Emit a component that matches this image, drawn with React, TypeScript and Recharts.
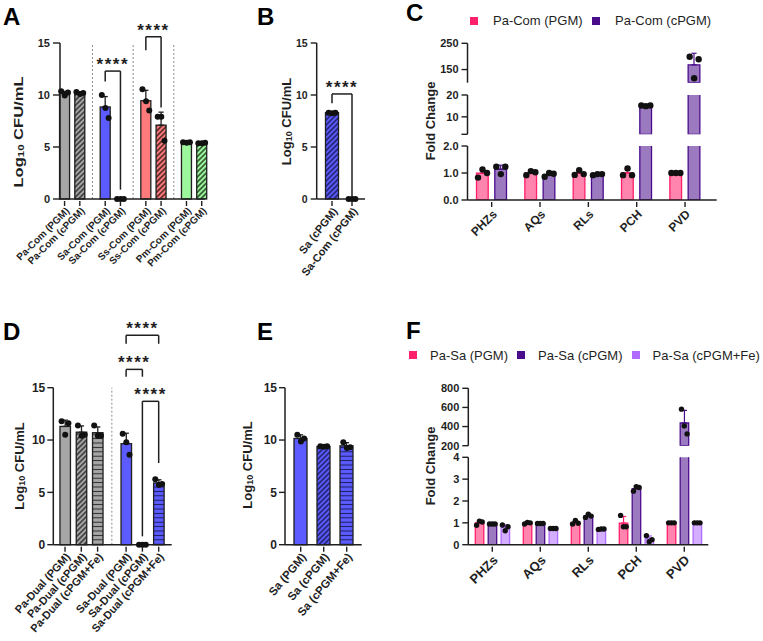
import React from "react";
import { ComposedChart, Bar, Line, XAxis, YAxis, ErrorBar, ReferenceLine, Legend } from "recharts";

const FONT = "'Liberation Sans', Arial, Helvetica, sans-serif";
const INK = "#1f1f1f";

// ---------------- Panel A ----------------
const aCategories = ["Pa-Com (PGM)", "Pa-Com (cPGM)", "Sa-Com (PGM)", "Sa-Com (cPGM)", "Ss-Com (PGM)", "Ss-Com (cPGM)", "Pm-Com (PGM)", "Pm-Com (cPGM)"];
const aMeans = [10.15, 10.2, 8.85, 0, 9.45, 7.1, 5.42, 5.37];
const aSD = [0.2, 0.1, 1.0, 0, 1.0, 1.25, 0.05, 0.05];
const aRep1 = [10.35, 10.3, 10.0, 0, 10.55, 7.9, 5.45, 5.35];
const aRep2 = [9.95, 10.1, 8.75, 0, 9.4, 7.9, 5.4, 5.35];
const aRep3 = [10.25, 10.2, 7.8, 0, 8.5, 5.6, 5.45, 5.4];

// ---------------- Panel B ----------------
const bCategories = ["Sa (cPGM)", "Sa-Com (cPGM)"];
const bMeans = [8.3, 0];
const bSD = [0.05, 0];
const bRep1 = [8.3, 0];
const bRep2 = [8.25, 0];
const bRep3 = [8.3, 0];

// ---------------- Panel C ----------------
const cCategories = ["PHZs", "AQs", "RLs", "PCH", "PVD"];
const cPgmMeans = [0.99, 1.0, 0.99, 1.0, 1.0];
const cPgmSD = [0.15, 0.08, 0.09, 0.14, 0];
const cPgmRep1 = [0.83, 0.92, 0.93, 0.92, 1.0];
const cPgmRep2 = [1.13, 1.07, 1.1, 1.17, 1.0];
const cPgmRep3 = [1.0, 1.03, 0.96, 0.92, 1.0];
const cCpgmMeans = [1.14, 0.94, 0.94, 15.1, 168];
const cCpgmSD = [0.15, 0.07, 0.03, 0.2, 44];
const cCpgmRep1 = [1.23, 0.86, 0.92, 15.2, 199];
const cCpgmRep2 = [0.96, 1.0, 0.96, 14.9, 117];
const cCpgmRep3 = [1.23, 0.97, 0.96, 15.2, 189];

// ---------------- Panel D ----------------
const dCategories = ["Pa-Dual (PGM)", "Pa-Dual (cPGM)", "Pa-Dual (cPGM+Fe)", "Sa-Dual (PGM)", "Sa-Dual (cPGM)", "Sa-Dual (cPGM+Fe)"];
const dMeans = [11.3, 10.75, 10.7, 9.65, 0, 5.9];
const dSD = [0.6, 0.6, 0.55, 1.0, 0, 0.3];
const dRep1 = [11.8, 11.4, 11.4, 10.6, 0, 6.25];
const dRep2 = [10.5, 10.4, 10.4, 9.8, 0, 5.7];
const dRep3 = [11.6, 10.5, 10.4, 8.6, 0, 5.8];

// ---------------- Panel E ----------------
const eCategories = ["Sa (PGM)", "Sa (cPGM)", "Sa (cPGM+Fe)"];
const eMeans = [10.15, 9.38, 9.45];
const eSD = [0.35, 0.05, 0.3];
const eRep1 = [10.5, 9.4, 9.8];
const eRep2 = [9.85, 9.35, 9.25];
const eRep3 = [10.15, 9.4, 9.3];

// ---------------- Panel F ----------------
const fCategories = ["PHZs", "AQs", "RLs", "PCH", "PVD"];
const fPgmMeans = [1.0, 0.99, 1.01, 0.99, 1.0];
const fPgmSD = [0.1, 0.04, 0.08, 0.3, 0];
const fPgmRep1 = [0.89, 0.95, 0.95, 1.34, 1.0];
const fPgmRep2 = [1.08, 1.02, 1.11, 0.82, 1.0];
const fPgmRep3 = [1.04, 1.0, 0.98, 0.82, 1.0];
const fCpgmMeans = [0.95, 0.97, 1.32, 2.57, 437];
const fCpgmSD = [0.01, 0.01, 0.08, 0.1, 132];
const fCpgmRep1 = [0.95, 0.97, 1.25, 2.45, 582];
const fCpgmRep2 = [0.95, 0.97, 1.4, 2.65, 407];
const fCpgmRep3 = [0.95, 0.97, 1.31, 2.62, 323];
const fFeMeans = [0.79, 0.74, 0.71, 0.26, 1.0];
const fFeSD = [0.13, 0.01, 0.01, 0.14, 0];
const fFeRep1 = [0.9, 0.74, 0.7, 0.41, 1.0];
const fFeRep2 = [0.64, 0.74, 0.72, 0.14, 1.0];
const fFeRep3 = [0.82, 0.74, 0.72, 0.23, 1.0];

// ---------------- styles ----------------
const AXIS = { stroke: INK, strokeWidth: 1.5 };
const JIT = [-3.4, 0.2, 3.4];

type XTickOpts = { font: number; angle: number; dx: number; dy: number; len: number };

function makeXTick(o: XTickOpts) {
  return (p: any) => {
    const { x, y, payload, index } = p;
    const v = String(payload && payload.value != null ? payload.value : "");
    if (!v || v.startsWith("__")) return <g key={`t${index}`} />;
    const tx = x + o.dx;
    const ty = y + o.dy;
    return (
      <g key={`t${index}`}>
        <line x1={x} y1={y} x2={x} y2={y + o.len} stroke={INK} strokeWidth={1.4} />
        <text x={tx} y={ty} dy="0.35em" textAnchor="end" transform={`rotate(${o.angle} ${tx} ${ty})`} fontSize={o.font} fontWeight="bold" fontFamily={FONT} fill={INK}>
          {v}
        </text>
      </g>
    );
  };
}

function makeDot(offset: number, r: number, domain?: [number, number]) {
  return (p: any) => {
    const { cx, cy, value, index } = p;
    if (cx == null || cy == null || !Number.isFinite(cx) || !Number.isFinite(cy) || value == null) return <g key={`e${index}`} />;
    if (domain && (value < domain[0] || value > domain[1])) return <g key={`e${index}`} />;
    return <circle key={`d${index}`} cx={cx + offset} cy={cy} r={r} fill="#111" />;
  };
}

function makeBarShape(w: number) {
  return (p: any) => {
    const { x, y, width, height, payload } = p;
    if (!payload || payload.mean == null || !(height > 0.01)) return <g />;
    const cx = x + width / 2;
    return <rect x={cx - w / 2} y={y} width={w} height={height} fill={payload.fill} stroke={INK} strokeWidth={1.3} />;
  };
}

function logTitle(x: number, y: number, len?: number) {
  return () => (
    <text x={x} y={y} transform={`rotate(-90 ${x} ${y})`} textAnchor="middle" dominantBaseline="central" fontSize={13} fontWeight="bold" fontFamily={FONT} fill={INK} textLength={len} lengthAdjust={len ? "spacingAndGlyphs" : undefined}>
      Log
      <tspan fontSize={9} dy={3}>10</tspan>
      <tspan dy={-3}> CFU/mL</tspan>
    </text>
  );
}

function plainTitle(text: string, x: number, y: number) {
  return () => (
    <text x={x} y={y} transform={`rotate(-90 ${x} ${y})`} textAnchor="middle" dominantBaseline="central" fontSize={13} fontWeight="bold" fontFamily={FONT} fill={INK}>
      {text}
    </text>
  );
}

// ---------------- simple (single-axis) panels ----------------
type Bracket = { from: number; to: number; top: number; leftEnd: number; rightEnd: number };
type SimpleCfg = {
  left: number; top: number; width: number; height: number;
  marginTop: number; marginRight: number; yAxisWidth: number; xAxisHeight: number;
  categories: string[]; means: number[]; sds: number[]; reps: number[][]; fills: string[];
  slots: number[]; totalSlots: number; separators: number[];
  padLeft: number; padRight: number; barWidth: number;
  brackets: Bracket[]; yFont: number; tickSize: number; tickMargin: number;
  xTick: XTickOpts; title: { x: number; y: number; len?: number };
};

function buildSlotData(cfg: SimpleCfg) {
  const rows: any[] = [];
  for (let s = 0; s < cfg.totalSlots; s++) {
    const ci = cfg.slots.indexOf(s);
    if (ci < 0) {
      rows.push({ name: `__${s}` });
      continue;
    }
    rows.push({
      name: cfg.categories[ci],
      mean: cfg.means[ci],
      err: cfg.sds[ci] > 0 ? [0, cfg.sds[ci]] : undefined,
      r0: cfg.reps[0][ci],
      r1: cfg.reps[1][ci],
      r2: cfg.reps[2][ci],
      fill: cfg.fills[ci],
    });
  }
  return rows;
}

function SimplePanel({ cfg }: { cfg: SimpleCfg }) {
  const data = buildSlotData(cfg);
  const common = { stroke: INK, strokeWidth: 1.5, ifOverflow: "visible" as const };
  return (
    <div style={{ position: "absolute", left: cfg.left, top: cfg.top }}>
      <ComposedChart width={cfg.width} height={cfg.height} data={data} margin={{ top: cfg.marginTop, right: cfg.marginRight, bottom: 0, left: 0 }}>
        <XAxis dataKey="name" type="category" interval={0} tickSize={0} tickLine={false} axisLine={AXIS} height={cfg.xAxisHeight} padding={{ left: cfg.padLeft, right: cfg.padRight }} tick={makeXTick(cfg.xTick)} />
        <YAxis
          type="number"
          domain={[0, 15]}
          ticks={[0, 5, 10, 15]}
          width={cfg.yAxisWidth}
          axisLine={AXIS}
          tickLine={{ stroke: INK, strokeWidth: 1.4 }}
          tickSize={cfg.tickSize}
          tickMargin={cfg.tickMargin}
          tick={{ fontSize: cfg.yFont, fontWeight: "bold", fill: INK, fontFamily: FONT }}
          label={logTitle(cfg.title.x, cfg.title.y, cfg.title.len)}
        />
        {cfg.separators.map((s) => (
          <ReferenceLine key={`sep${s}`} x={`__${s}`} stroke="#8c8c8c" strokeDasharray="2 2" strokeWidth={1} />
        ))}
        <Bar dataKey="mean" isAnimationActive={false} shape={makeBarShape(cfg.barWidth)}>
          <ErrorBar dataKey="err" width={2.6} stroke={INK} strokeWidth={1.3} direction="y" />
        </Bar>
        {[0, 1, 2].map((j) => (
          <Line key={`r${j}`} dataKey={`r${j}`} stroke="none" isAnimationActive={false} dot={makeDot(JIT[j], 3)} activeDot={false} legendType="none" />
        ))}
        {cfg.brackets.map((b, i) => {
          const A = cfg.categories[b.from];
          const B = cfg.categories[b.to];
          return [
            <ReferenceLine key={`bl${i}`} segment={[{ x: A, y: b.leftEnd }, { x: A, y: b.top }]} {...common} />,
            <ReferenceLine
              key={`bt${i}`}
              segment={[{ x: A, y: b.top }, { x: B, y: b.top }]}
              {...common}
              label={{ value: "****", position: "top", offset: 1, fontSize: 17, fontWeight: "bold", fill: INK, fontFamily: FONT, letterSpacing: 1.5 }}
            />,
            <ReferenceLine key={`br${i}`} segment={[{ x: B, y: b.top }, { x: B, y: b.rightEnd }]} {...common} />,
          ];
        })}
      </ComposedChart>
    </div>
  );
}

// ---------------- broken-axis grouped panels ----------------
type Series = { name: string; color: string; means: number[]; sds: number[]; reps: number[][] };
type Seg = { domain: [number, number]; ticks: number[]; fmt: (v: number) => string; top: number; bottom: number; showX?: boolean; legend?: boolean };
type BrokenCfg = {
  left: number; top: number; width: number; yAxisWidth: number; marginRight: number;
  padLeft: number; padRight: number; xAxisHeight: number;
  categories: string[]; series: Series[]; segments: Seg[];
  barSize: number; barGap: number; dotR: number; jitter: number[];
  xTick: XTickOpts; title: { x: number; y: number };
  legend: { left: number; top: number; squareGap: number; itemGap: number; size: number };
};

function buildGroupData(cats: string[], series: Series[], domain: [number, number]) {
  return cats.map((c, i) => {
    const row: any = { name: c };
    series.forEach((s, k) => {
      // a bar only shows in a segment that it reaches
      row[`m${k}`] = s.means[i] > domain[0] ? s.means[i] : undefined;
      const inSeg = s.means[i] >= domain[0] && s.means[i] <= domain[1];
      row[`e${k}`] = inSeg && s.sds[i] > 0 ? [0, s.sds[i]] : undefined;
      s.reps.forEach((rep, j) => {
        row[`r${k}_${j}`] = rep[i];
      });
    });
    return row;
  });
}

function BrokenPanel({ cfg }: { cfg: BrokenCfg }) {
  const n = cfg.series.length;
  const groupOffset = (k: number) => (k - (n - 1) / 2) * (cfg.barSize + cfg.barGap);
  const legendContent = () => (
    <div style={{ display: "flex", alignItems: "center", fontFamily: FONT, fontSize: 13, lineHeight: "15px", color: INK, whiteSpace: "nowrap" }}>
      {cfg.series.map((s) => (
        <div key={s.name} style={{ display: "flex", alignItems: "center", marginRight: cfg.legend.itemGap }}>
          <span style={{ display: "inline-block", width: cfg.legend.size, height: cfg.legend.size, background: s.color, marginRight: cfg.legend.squareGap }} />
          <span>{s.name}</span>
        </div>
      ))}
    </div>
  );
  return (
    <>
      {cfg.segments.map((seg, si) => {
        const data = buildGroupData(cfg.categories, cfg.series, seg.domain);
        const xh = seg.showX ? cfg.xAxisHeight : 8;
        const h = seg.bottom - cfg.top + xh;
        return (
          <div key={si} style={{ position: "absolute", left: cfg.left, top: cfg.top }}>
            <ComposedChart width={cfg.width} height={h} data={data} barGap={cfg.barGap} margin={{ top: seg.top - cfg.top, right: cfg.marginRight, bottom: seg.showX ? 0 : 8, left: 0 }}>
              <XAxis dataKey="name" type="category" hide={!seg.showX} height={seg.showX ? cfg.xAxisHeight : 0} interval={0} tickSize={0} tickLine={false} axisLine={AXIS} padding={{ left: cfg.padLeft, right: cfg.padRight }} tick={makeXTick(cfg.xTick)} />
              <YAxis
                type="number"
                domain={seg.domain}
                allowDataOverflow
                ticks={seg.ticks}
                tickFormatter={seg.fmt}
                width={cfg.yAxisWidth}
                axisLine={AXIS}
                tickLine={{ stroke: INK, strokeWidth: 1.4 }}
                tickSize={6}
                tickMargin={3}
                tick={{ fontSize: 11, fontWeight: "bold", fill: INK, fontFamily: FONT }}
                label={seg.showX ? plainTitle("Fold Change", cfg.title.x, cfg.title.y) : undefined}
              />
              {seg.legend && (
                <Legend layout="horizontal" verticalAlign="middle" align="center" content={legendContent} wrapperStyle={{ left: cfg.legend.left, top: cfg.legend.top, width: "auto", height: "auto" }} />
              )}
              {cfg.series.map((s, k) => (
                <Bar key={`b${k}`} dataKey={`m${k}`} name={s.name} fill={s.color} fillOpacity={0.55} stroke={s.color} strokeWidth={1.3} barSize={cfg.barSize} isAnimationActive={false}>
                  <ErrorBar dataKey={`e${k}`} width={2.6} stroke={s.color} strokeWidth={1.2} direction="y" />
                </Bar>
              ))}
              {cfg.series.map((s, k) =>
                [0, 1, 2].map((j) => (
                  <Line key={`l${k}_${j}`} dataKey={`r${k}_${j}`} stroke="none" isAnimationActive={false} activeDot={false} legendType="none" dot={makeDot(groupOffset(k) + cfg.jitter[j], cfg.dotR, seg.domain)} />
                ))
              )}
            </ComposedChart>
          </div>
        );
      })}
    </>
  );
}

// ---------------- patterns & letters ----------------
function PatternDefs() {
  const hatch = (id: string, bg: string, line: string) => (
    <pattern id={id} patternUnits="userSpaceOnUse" width={3.6} height={3.6} patternTransform="rotate(45)">
      <rect width={3.6} height={3.6} fill={bg} />
      <line x1={1.8} y1={0} x2={1.8} y2={3.6} stroke={line} strokeWidth={1.4} />
    </pattern>
  );
  const stripes = (id: string, bg: string, line: string) => (
    <pattern id={id} patternUnits="userSpaceOnUse" width={6} height={4.4}>
      <rect width={6} height={4.4} fill={bg} />
      <line x1={0} y1={2.2} x2={6} y2={2.2} stroke={line} strokeWidth={1} />
    </pattern>
  );
  return (
    <svg width={0} height={0} style={{ position: "absolute", left: 0, top: 0 }}>
      <defs>
        {hatch("hGray", "#a6a6a6", "#2a2a2a")}
        {hatch("hBlue", "#5b5bff", "#1a1a5a")}
        {hatch("hSalmon", "#ff7b7b", "#3a1a1a")}
        {hatch("hGreen", "#9df79d", "#1f3a1f")}
        {stripes("sGray", "#a6a6a6", "#2a2a2a")}
        {stripes("sBlue", "#5b5bff", "#1a1a5a")}
      </defs>
    </svg>
  );
}

function Letters() {
  const st = { fontSize: 24, fontWeight: "bold" as const, fontFamily: FONT, fill: "#000" };
  return (
    <svg width={763} height={641} style={{ position: "absolute", left: 0, top: 0 }}>
      <text x={3} y={25} {...st}>A</text>
      <text x={257} y={25} {...st}>B</text>
      <text x={406} y={21} {...st}>C</text>
      <text x={3} y={340} {...st}>D</text>
      <text x={257} y={340} {...st}>E</text>
      <text x={406} y={339} {...st}>F</text>
    </svg>
  );
}

// ---------------- configs ----------------
const cfgA: SimpleCfg = {
  left: 0, top: 0, width: 212, height: 300, marginTop: 43, marginRight: 7, yAxisWidth: 60, xAxisHeight: 101,
  categories: aCategories, means: aMeans, sds: aSD, reps: [aRep1, aRep2, aRep3],
  fills: ["#a6a6a6", "url(#hGray)", "#5b5bff", "url(#hBlue)", "#ff7b7b", "url(#hSalmon)", "#9df79d", "url(#hGreen)"],
  slots: [0, 6, 16, 22, 32, 38, 48, 54], totalSlots: 55, separators: [11, 27, 43],
  padLeft: 3.3, padRight: 2, barWidth: 10,
  brackets: [
    { from: 2, to: 3, top: 12.3, leftEnd: 11.3, rightEnd: 0.9 },
    { from: 4, to: 5, top: 15.6, leftEnd: 14.3, rightEnd: 8.8 },
  ],
  yFont: 11, tickSize: 7, tickMargin: 3,
  xTick: { font: 10, angle: -45, dx: 3, dy: 8, len: 5 },
  title: { x: 18, y: 132, len: 111 },
};

const cfgB: SimpleCfg = {
  left: 250, top: 0, width: 120, height: 300, marginTop: 43, marginRight: 5, yAxisWidth: 66.7, xAxisHeight: 101,
  categories: bCategories, means: bMeans, sds: bSD, reps: [bRep1, bRep2, bRep3],
  fills: ["url(#hBlue)", "url(#hBlue)"],
  slots: [0, 1], totalSlots: 2, separators: [],
  padLeft: 5.3, padRight: 3, barWidth: 13,
  brackets: [{ from: 0, to: 1, top: 10.1, leftEnd: 9.2, rightEnd: 0.25 }],
  yFont: 10.5, tickSize: 6, tickMargin: 3,
  xTick: { font: 11, angle: -52, dx: 3, dy: 8, len: 5 },
  title: { x: 36, y: 121.5 },
};

const cfgD: SimpleCfg = {
  left: 0, top: 300, width: 180, height: 341, marginTop: 87.7, marginRight: 8.3, yAxisWidth: 53.3, xAxisHeight: 96.3,
  categories: dCategories, means: dMeans, sds: dSD, reps: [dRep1, dRep2, dRep3],
  fills: ["#a6a6a6", "url(#hGray)", "url(#sGray)", "#5b5bff", "url(#hBlue)", "url(#sBlue)"],
  slots: [0, 8, 16, 30, 38, 46], totalSlots: 47, separators: [23],
  padLeft: 10.7, padRight: 12, barWidth: 10.5,
  brackets: [
    { from: 3, to: 5, top: 20.0, leftEnd: 19.2, rightEnd: 19.2 },
    { from: 3, to: 4, top: 16.75, leftEnd: 16.05, rightEnd: 16.05 },
    { from: 4, to: 5, top: 13.7, leftEnd: 0.8, rightEnd: 7.8 },
  ],
  yFont: 12, tickSize: 6, tickMargin: 2,
  xTick: { font: 11, angle: -48, dx: 3, dy: 8, len: 5 },
  title: { x: 19, y: 166 },
};

const cfgE: SimpleCfg = {
  left: 235, top: 300, width: 132, height: 341, marginTop: 87.7, marginRight: 5.3, yAxisWidth: 50, xAxisHeight: 96.3,
  categories: eCategories, means: eMeans, sds: eSD, reps: [eRep1, eRep2, eRep3],
  fills: ["#5b5bff", "url(#hBlue)", "url(#sBlue)"],
  slots: [0, 1, 2], totalSlots: 3, separators: [],
  padLeft: 4.2, padRight: 3.5, barWidth: 13,
  brackets: [],
  yFont: 12, tickSize: 6, tickMargin: 2,
  xTick: { font: 11.5, angle: -50, dx: 3, dy: 8, len: 5 },
  title: { x: 12, y: 165 },
};

const cfgC: BrokenCfg = {
  left: 380, top: 0, width: 345, yAxisWidth: 87.5, marginRight: 8.3, padLeft: 0, padRight: 7.5, xAxisHeight: 100,
  categories: cCategories,
  series: [
    { name: "Pa-Com (PGM)", color: "#ff1f6b", means: cPgmMeans, sds: cPgmSD, reps: [cPgmRep1, cPgmRep2, cPgmRep3] },
    { name: "Pa-Com (cPGM)", color: "#4b0c8c", means: cCpgmMeans, sds: cCpgmSD, reps: [cCpgmRep1, cCpgmRep2, cCpgmRep3] },
  ],
  segments: [
    { domain: [100, 250], ticks: [100, 150, 200, 250], fmt: (v) => String(v), top: 43.3, bottom: 82.7, legend: true },
    { domain: [2, 20], ticks: [2, 5, 10, 15, 20], fmt: (v) => (v === 2 ? "" : String(v)), top: 95, bottom: 134.3 },
    { domain: [0, 2], ticks: [0, 0.5, 1, 1.5, 2], fmt: (v) => v.toFixed(1), top: 146, bottom: 200, showX: true },
  ],
  barSize: 11.7, barGap: 6.6, dotR: 3.2, jitter: [-4.5, 0, 4.5],
  xTick: { font: 12, angle: -45, dx: 3, dy: 10, len: 5 },
  title: { x: 50, y: 121 },
  legend: { left: 90, top: 13, squareGap: 15, itemGap: 9.5, size: 8 },
};

const cfgF: BrokenCfg = {
  left: 380, top: 300, width: 333, yAxisWidth: 88.3, marginRight: 4.7, padLeft: 0, padRight: 0, xAxisHeight: 96.3,
  categories: fCategories,
  series: [
    { name: "Pa-Sa (PGM)", color: "#ff1f6b", means: fPgmMeans, sds: fPgmSD, reps: [fPgmRep1, fPgmRep2, fPgmRep3] },
    { name: "Pa-Sa (cPGM)", color: "#4b0c8c", means: fCpgmMeans, sds: fCpgmSD, reps: [fCpgmRep1, fCpgmRep2, fCpgmRep3] },
    { name: "Pa-Sa (cPGM+Fe)", color: "#b06cff", means: fFeMeans, sds: fFeSD, reps: [fFeRep1, fFeRep2, fFeRep3] },
  ],
  segments: [
    { domain: [200, 800], ticks: [200, 400, 600, 800], fmt: (v) => String(v), top: 388.3, bottom: 445.7, legend: true },
    { domain: [0, 4], ticks: [0, 1, 2, 3, 4], fmt: (v) => String(v), top: 457.3, bottom: 544.7, showX: true },
  ],
  barSize: 8.5, barGap: 4.4, dotR: 2.7, jitter: [-2.8, 0, 2.8],
  xTick: { font: 13, angle: -45, dx: 3, dy: 11, len: 5 },
  title: { x: 50, y: 166 },
  legend: { left: 29, top: 47.5, squareGap: 13, itemGap: 9, size: 8 },
};

export default function App() {
  return (
    <div style={{ position: "absolute", left: 0, top: 0, width: 763, height: 641, background: "#fff", overflow: "hidden", fontFamily: FONT }}>
      <PatternDefs />
      <Letters />
      <SimplePanel cfg={cfgA} />
      <SimplePanel cfg={cfgB} />
      <BrokenPanel cfg={cfgC} />
      <SimplePanel cfg={cfgD} />
      <SimplePanel cfg={cfgE} />
      <BrokenPanel cfg={cfgF} />
    </div>
  );
}
